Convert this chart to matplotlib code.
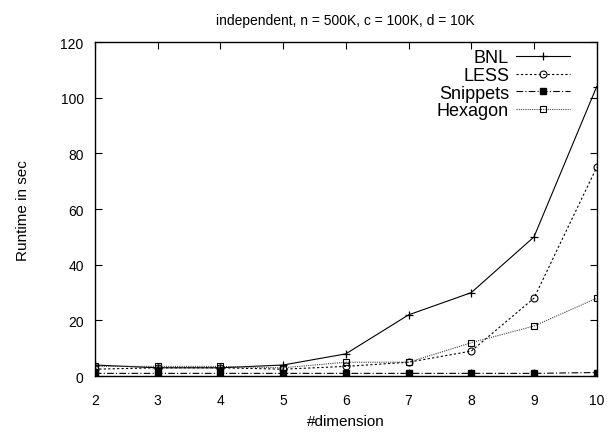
import numpy as np
import matplotlib
matplotlib.use("Agg")
import matplotlib.pyplot as plt

plt.rcParams['font.family'] = ['Liberation Sans', 'DejaVu Sans']

dims = [2, 3, 4, 5, 6, 7, 8, 9, 10]
bnl = [4, 3, 3, 4, 8, 22, 30, 50, 104]
less = [2.5, 3, 3, 2.5, 3.5, 5, 9, 28, 75]
snippets = [1, 1, 1, 1, 1, 1, 1, 1, 1.3]
hexagon = [3.5, 3.5, 3.5, 3, 5, 5, 12, 18, 28]

fig = plt.figure(figsize=(6.12, 4.35), dpi=100)
ax = fig.add_axes([0.155, 0.133, 0.82, 0.768])

ax.plot(dims, bnl, color='black', lw=0.8, marker='+', ms=6, mew=0.9, label='BNL')
ax.plot(dims, less, color='black', lw=0.8, ls=(0, (2, 2)), marker='o', ms=5,
        mfc='none', mew=0.8, label='LESS')
ax.plot(dims, snippets, color='black', lw=0.8, ls=(0, (6, 2, 1, 2)), marker='s', ms=5,
        label='Snippets')
ax.plot(dims, hexagon, color='#444444', lw=0.8, ls=(0, (1, 1)), marker='s', ms=5,
        mfc='none', mec='black', mew=0.8, label='Hexagon')

ax.set_xlim(2, 10)
ax.set_ylim(0, 120)
ax.set_xticks(dims)
ax.set_yticks(np.arange(0, 121, 20))
ax.tick_params(direction='in', top=True, right=True, labelsize=10, length=5)
ax.tick_params(axis='x', pad=12)
ax.tick_params(axis='y', pad=8)
for s in ax.spines.values():
    s.set_linewidth(1.0)

ax.set_xlabel('#dimension', fontsize=11, labelpad=5)
ax.set_ylabel('Runtime in sec', fontsize=11, labelpad=22)
ax.set_title('independent, n = 500K, c = 100K, d = 10K', fontsize=10, pad=13)

ax.legend(loc='upper right', bbox_to_anchor=(0.962, 1.0), frameon=False,
          markerfirst=False, fontsize=13, handlelength=3.0, handletextpad=0.4,
          labelspacing=0.04, borderaxespad=0.0)

fig.savefig('out.png', dpi=100)
